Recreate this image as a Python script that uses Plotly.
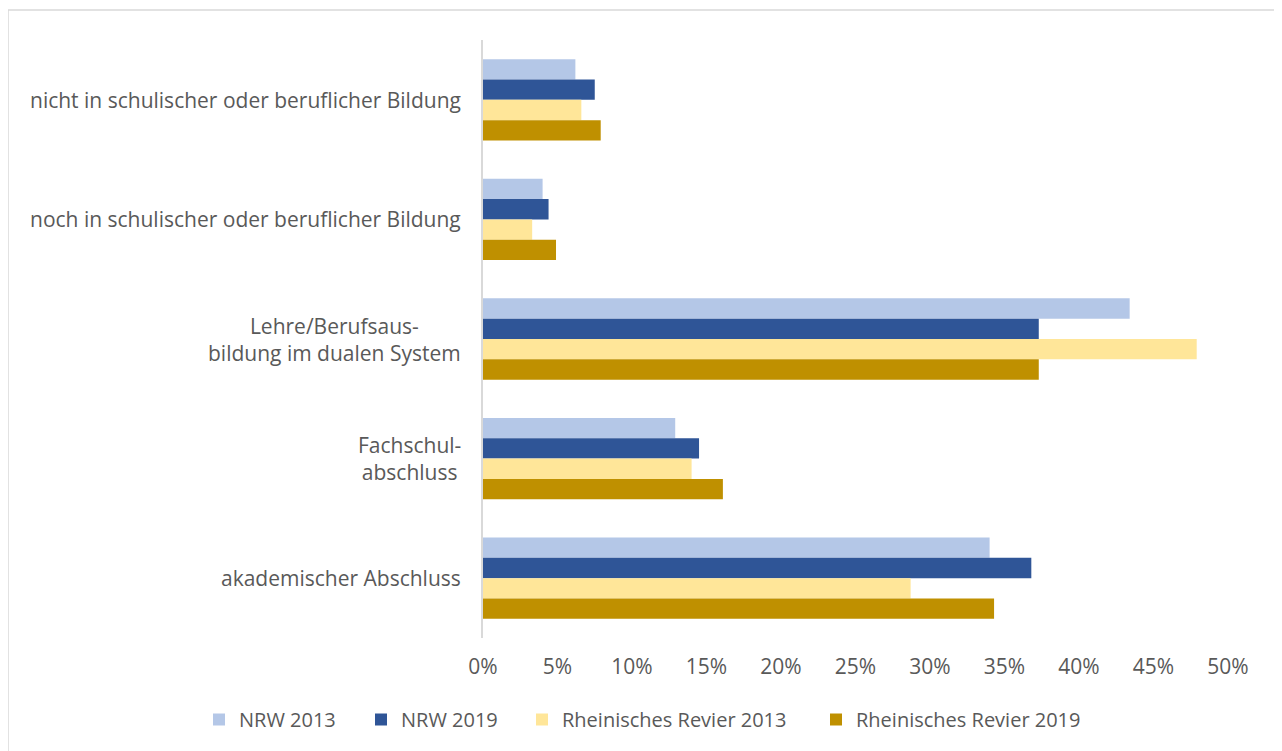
import plotly.graph_objects as go

categories = [
    "nicht in schulischer oder beruflicher Bildung",
    "noch in schulischer oder beruflicher Bildung",
    "Lehre/Berufsaus-<br>bildung im dualen System",
    "Fachschul-<br>abschluss",
    "akademischer Abschluss",
]
series_names = ["NRW 2013", "NRW 2019", "Rheinisches Revier 2013", "Rheinisches Revier 2019"]
nrw_2013 = [0.062, 0.040, 0.434, 0.129, 0.340]
nrw_2019 = [0.075, 0.044, 0.373, 0.145, 0.368]
rr_2013 = [0.066, 0.033, 0.479, 0.140, 0.287]
rr_2019 = [0.079, 0.049, 0.373, 0.161, 0.343]
tick_vals = [0, 0.05, 0.10, 0.15, 0.20, 0.25, 0.30, 0.35, 0.40, 0.45, 0.50]
tick_text = ["0%", "5%", "10%", "15%", "20%", "25%", "30%", "35%", "40%", "45%", "50%"]
colors = ["#B4C7E7", "#2F5597", "#FFE699", "#BF9000"]

W, H = 1282, 751
ML, MR, MT, MB = 475, 62, 32, 121
TEXT = "#595959"
FONT = "'Open Sans', Lato, sans-serif"
pw = W - ML - MR
ph = H - MT - MB

legend_ids = ["legend", "legend2", "legend3", "legend4"]
legend_left_px = [191, 353, 514, 808]

fig = go.Figure()
for name, vals, col, lid in zip(series_names, [nrw_2013, nrw_2019, rr_2013, rr_2019], colors, legend_ids):
    fig.add_trace(go.Bar(
        y=categories, x=vals, name=name, orientation="h",
        marker=dict(color=col, line=dict(width=0)),
        hoverinfo="skip", legend=lid,
    ))

fig.add_shape(
    type="rect", xref="paper", yref="paper",
    x0=(0 - ML) / pw, x1=(1273 - ML) / pw,
    y0=-(MB + 20) / ph, y1=1 + (MT - 2) / ph,
    line=dict(color="#D9D9D9", width=1.5), fillcolor="rgba(0,0,0,0)", layer="below",
)

# category labels: centred multi-line text, right-anchored next to the axis
for cat in categories:
    fig.add_annotation(
        x=0, xref="paper", y=cat, yref="y", text=cat, showarrow=False,
        xanchor="right", yanchor="middle", align="center", xshift=-20,
        font=dict(family=FONT, size=21, color=TEXT),
    )

legend_y = -(692 - (MT + ph)) / ph
legends = {}
for lid, px in zip(legend_ids, legend_left_px):
    legends[lid] = dict(orientation="h", xref="paper", yref="paper",
                        x=(px - ML) / pw, xanchor="left", y=legend_y, yanchor="top",
                        font=dict(size=20, family=FONT, color=TEXT),
                        itemwidth=30, bgcolor="rgba(0,0,0,0)")

fig.update_layout(
    width=W, height=H,
    margin=dict(l=ML, r=MR, t=MT, b=MB, autoexpand=False),
    barmode="group", bargap=0.32, bargroupgap=0,
    paper_bgcolor="white", plot_bgcolor="white",
    font=dict(family=FONT, color=TEXT, size=20),
    xaxis=dict(range=[0, 0.5], tickvals=tick_vals, ticktext=tick_text,
               showgrid=False, zeroline=False, showline=False, ticks="",
               tickfont=dict(size=21), fixedrange=True, ticklabelstandoff=14),
    yaxis=dict(autorange="reversed", showgrid=False, zeroline=False,
               showline=True, linecolor="#D9D9D9", linewidth=1.5, ticks="",
               showticklabels=False),
    showlegend=True,
    **legends,
)

fig.write_html("out.html")
